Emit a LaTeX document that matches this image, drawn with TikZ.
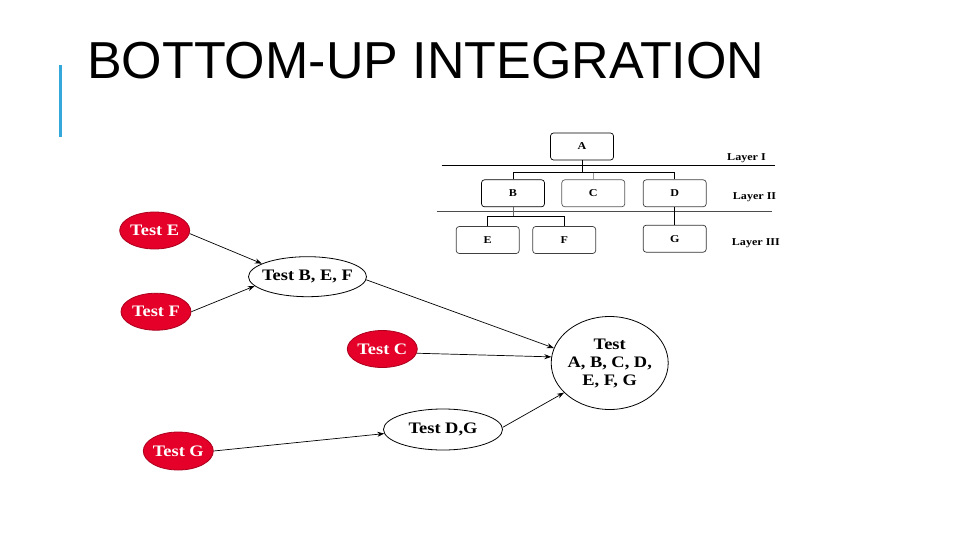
\documentclass[tikz,border=0pt]{standalone}
\usepackage{fontspec}
\setmainfont{Liberation Serif}
\newfontfamily\titlefont{Liberation Sans}
\newfontfamily\lblfont[FakeStretch=1.15]{Liberation Serif}
\usetikzlibrary{shapes.geometric,arrows.meta}
\definecolor{tred}{RGB}{228,0,40}
\definecolor{tbar}{RGB}{52,168,218}
\newcommand{\zb}[1]{\makebox[0pt]{#1}}
\tikzset{
 redell/.style={ellipse,draw=tred!75!black,fill=tred,text=white,font=\lblfont\bfseries\fontsize{16}{18}\selectfont,inner sep=0pt,minimum width=70pt,minimum height=37pt,line width=0.8pt},
 whiteell/.style={ellipse,draw=black,fill=white,font=\lblfont\bfseries\fontsize{16}{18}\selectfont,inner sep=0pt,line width=0.8pt},
 arr/.style={-{Stealth[length=7pt,width=5pt]},line width=0.7pt},
 hbox/.style={draw,rounded corners=3pt,minimum width=63pt,minimum height=27pt,inner sep=0pt,font=\lblfont\bfseries\fontsize{10.5}{12}\selectfont,line width=0.7pt},
 layer/.style={font=\lblfont\bfseries\fontsize{10.5}{12}\selectfont,anchor=west,inner sep=0pt},
 hline/.style={line width=0.7pt}
}
\begin{document}
\begin{tikzpicture}[x=1pt,y=-1pt]
\useasboundingbox (0,0) rectangle (960,540);
\fill[white] (0,0) rectangle (960,540);
% title and bar
\fill[tbar] (58.5,65) rectangle (61.5,137);
\node[anchor=base west,inner sep=0pt,font=\titlefont\fontsize{52}{60}\selectfont] (title) at (87,79) {BOTTOM-UP INTEGRATION};
% hierarchy
\node[hbox] (A) at (582,146.5) {A};
\node[hbox] (B) at (513,193.3) {B};
\node[hbox,draw=black!65] (C) at (593.3,193.3) {C};
\node[hbox,draw=black!75] (D) at (674.7,193.3) {D};
\node[hbox,draw=black!75] (E) at (487.7,240) {E};
\node[hbox,draw=black!75] (F) at (564.2,240) {F};
\node[hbox,draw=black!80] (G) at (674.7,238.7) {G};
\draw[hline] (441.7,165.7) -- (775,165.7);
\draw[hline,black!70] (436.7,211) -- (771.7,211);
\coordinate (jA) at (582,172.7);
\coordinate (jB) at (513,216.7);
\draw[hline] (A.south) -- (jA);
\draw[hline] (B.north) |- (jA) -| (D.north);
\draw[hline,black!40] (jA -| C.north) -- (C.north);
\draw[hline,black!60] (B.south) -- (jB);
\draw[hline] (E.north) |- (jB) -| (F.north);
\draw[hline] (D.south) -- (G.north);
\node[layer] (L1) at (727,158) {Layer I};
\node[layer] (L2) at (732.7,197.5) {Layer II};
\node[layer] (L3) at (731.7,243.5) {Layer III};
% test nodes
\node[redell] (tE) at (154.7,230.5) {\zb{Test E}};
\node[redell] (tF) at (156,311.7) {\zb{Test F}};
\node[redell] (tC) at (382.3,349) {\zb{Test C}};
\node[redell,minimum height=38pt] (tG) at (178.3,451) {\zb{Test G}};
\node[whiteell,minimum width=118pt,minimum height=40pt] (tBEF) at (307.5,276.7) {\zb{Test B, E, F}};
\node[whiteell,minimum width=119pt,minimum height=41pt] (tDG) at (443,429.5) {\zb{Test D,G}};
\node[whiteell,minimum width=117pt,minimum height=93pt,align=center] (tAll) at (609.7,363) {\zb{Test}\\\zb{A, B, C, D,}\\\zb{E, F, G}};
% arrows
\draw[arr] (tE.-5) -- (tBEF.164);
\draw[arr] (tF.0) -- (tBEF.-170);
\draw[arr] (tBEF.-3) -- (tAll.165);
\draw[arr] (tC.-7) -- (tAll.174);
\draw[arr] (tG.0) -- (tDG.-176);
\draw[arr] (tDG.2) -- (tAll.-147);
\end{tikzpicture}
\end{document}
